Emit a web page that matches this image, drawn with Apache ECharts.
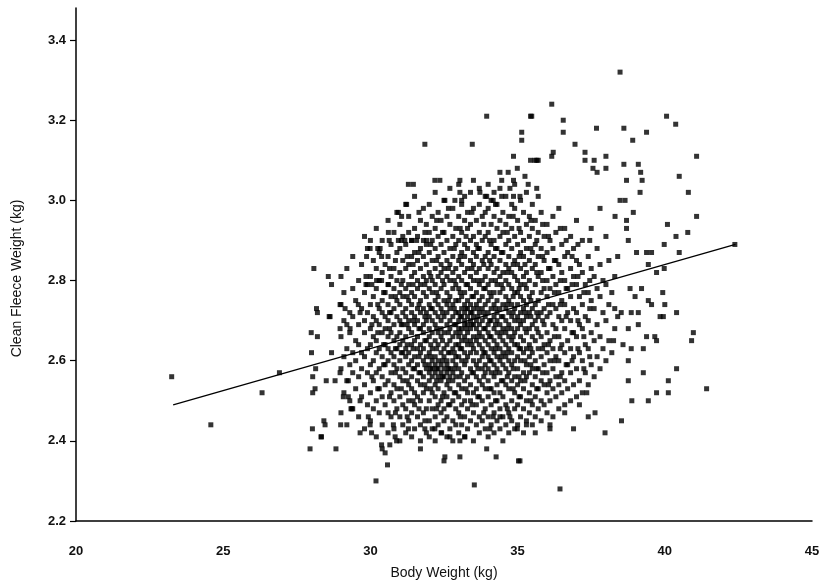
<!DOCTYPE html>
<html>
<head>
<meta charset="utf-8">
<style>
  html, body { margin: 0; padding: 0; background: #fff; }
  #chart { width: 832px; height: 586px; }
</style>
<script src="https://cdn.jsdelivr.net/npm/echarts@6/dist/echarts.min.js"></script>
</head>
<body>
<div id="chart"></div>
<script>
// body weight (kg) vs clean fleece weight (kg)

const yTicks = [2.2, 2.4, 2.6, 2.8, 3.0, 3.2, 3.4];
const xTicks = [20, 25, 30, 35, 40, 45];

// fitted regression line end points
const fitX = [23.3, 42.4];
const fitY = [2.49, 2.89];

// scattered animals away from the dense centre
const outliers = [
  [23.25, 2.56], [24.58, 2.44], [26.32, 2.52], [26.91, 2.57],
  [28.08, 2.83], [28.57, 2.81], [28.68, 2.79], [28.2, 2.72], [28.6, 2.71], [27.99, 2.67],
  [28.2, 2.66], [28.0, 2.62], [28.68, 2.62], [28.04, 2.56], [28.14, 2.58], [28.12, 2.53],
  [28.04, 2.52], [28.42, 2.45], [28.03, 2.43], [28.32, 2.41], [27.95, 2.38], [28.83, 2.38],
  [28.99, 2.44], [28.5, 2.55], [28.8, 2.55], [28.97, 2.57], [29.34, 2.48], [30.19, 2.30],
  [30.58, 2.34], [30.4, 2.38], [30.66, 2.39], [31.7, 2.38], [32.5, 2.35], [29.8, 2.91],
  [29.87, 2.86], [28.97, 2.74], [29.14, 2.73], [29.59, 2.74], [29.65, 2.72], [28.17, 2.73],
  [28.63, 2.71], [28.97, 2.68], [29.31, 2.68], [28.46, 2.44], [28.34, 2.41], [29.65, 2.42],
  [29.93, 2.46], [29.99, 2.44], [30.04, 2.42], [30.38, 2.39], [30.5, 2.37], [30.78, 2.44],
  [30.84, 2.41], [30.89, 2.40], [31.29, 2.43], [31.85, 2.43], [32.19, 2.43], [32.42, 2.42],
  [32.53, 2.36], [33.04, 2.36], [32.7, 2.41], [33.04, 2.40], [33.21, 2.41], [33.53, 2.29],
  [33.95, 2.38], [34.27, 2.36], [35.03, 2.35], [34.06, 2.43], [34.99, 2.43], [34.17, 2.46],
  [34.4, 2.46], [34.74, 2.46], [29.25, 2.51], [29.08, 2.51], [29.37, 2.48], [29.65, 2.50],
  [29.25, 2.55], [29.85, 2.81], [29.85, 2.79], [30.21, 2.80], [30.38, 2.80], [30.61, 2.79],
  [29.99, 2.88], [30.33, 2.88], [30.38, 2.86], [30.61, 2.92], [30.64, 2.90], [30.95, 2.90],
  [31.17, 2.90], [31.4, 2.90], [31.57, 2.90], [31.91, 2.90], [30.95, 2.97], [31.06, 2.96],
  [31.23, 2.99],
  [33.95, 3.21], [35.44, 3.21], [35.14, 3.17], [35.14, 3.15], [31.85, 3.14], [33.46, 3.14],
  [34.86, 3.11], [35.44, 3.10], [35.65, 3.10], [34.99, 3.08], [34.4, 3.07], [34.68, 3.07],
  [31.29, 3.04], [31.46, 3.04], [32.19, 3.05], [32.36, 3.05], [33.04, 3.05], [33.04, 3.02],
  [34.46, 3.05], [34.86, 3.05], [35.25, 3.06], [35.36, 3.04], [35.65, 3.03], [32.53, 3.00],
  [32.87, 3.00], [33.1, 3.00], [33.72, 3.02], [33.95, 3.01], [34.17, 3.00], [34.46, 3.01],
  [34.74, 3.03], [34.86, 3.01], [35.08, 3.01],
  [38.48, 3.32], [36.16, 3.24], [35.48, 3.21], [36.55, 3.20], [36.55, 3.17], [37.68, 3.18],
  [38.61, 3.18], [39.38, 3.17], [38.91, 3.15], [40.06, 3.21], [40.37, 3.19], [36.95, 3.14],
  [36.21, 3.12], [36.16, 3.11], [35.59, 3.10], [35.7, 3.10], [37.29, 3.12], [37.29, 3.10],
  [37.6, 3.10], [38.0, 3.11], [38.0, 3.08], [37.56, 3.08], [37.7, 3.07], [38.61, 3.09],
  [39.1, 3.09], [39.18, 3.07], [38.7, 3.05], [39.23, 3.05], [39.16, 3.02], [41.08, 3.11],
  [40.49, 3.06], [40.8, 3.02], [41.08, 2.96], [40.09, 2.94], [40.78, 2.92], [40.38, 2.91],
  [39.98, 2.89], [40.49, 2.87], [42.38, 2.89], [38.93, 2.97], [38.48, 3.00], [38.65, 3.00],
  [37.8, 2.98], [38.31, 2.96], [38.7, 2.95], [38.7, 2.93], [38.76, 2.90], [39.04, 2.87],
  [39.38, 2.87], [39.55, 2.87], [39.44, 2.84], [39.72, 2.82], [39.98, 2.83], [39.21, 2.78],
  [38.82, 2.78], [38.99, 2.76], [39.44, 2.75], [39.55, 2.74], [39.93, 2.77], [40.0, 2.74],
  [39.95, 2.71], [39.84, 2.71], [40.4, 2.72], [38.3, 2.73], [38.52, 2.72], [38.86, 2.72],
  [39.1, 2.72], [38.76, 2.68], [39.1, 2.69], [39.38, 2.66], [39.66, 2.66], [39.72, 2.65],
  [40.97, 2.67], [40.91, 2.65], [38.26, 2.65], [38.58, 2.64], [38.86, 2.63], [39.27, 2.63],
  [38.76, 2.60], [40.4, 2.58], [39.27, 2.57], [38.76, 2.55], [40.12, 2.55], [40.12, 2.52],
  [39.72, 2.52], [39.44, 2.50], [38.88, 2.50], [41.42, 2.53], [38.53, 2.45], [37.97, 2.42],
  [37.4, 2.46], [37.63, 2.47], [36.1, 2.44], [36.1, 2.43], [36.44, 2.28], [35.08, 2.35],
  [37.35, 2.52], [37.1, 2.49], [36.6, 2.47], [36.9, 2.43], [35.6, 2.42], [35.3, 2.44]
];

// dense centre of the cloud, one column per body weight
const coreColumns = [
  [29.0, [2.47, 2.58, 2.66, 2.74, 2.81]],
  [29.1, [2.52, 2.61, 2.70, 2.77]],
  [29.2, [2.44, 2.55, 2.63, 2.69, 2.83]],
  [29.3, [2.50, 2.59, 2.67, 2.72]],
  [29.4, [2.48, 2.57, 2.62, 2.71, 2.78, 2.86]],
  [29.5, [2.53, 2.60, 2.65, 2.75]],
  [29.6, [2.46, 2.56, 2.64, 2.69, 2.80]],
  [29.7, [2.51, 2.58, 2.62, 2.73, 2.84]],
  [29.8, [2.43, 2.54, 2.61, 2.67, 2.70, 2.77]],
  [29.9, [2.49, 2.57, 2.63, 2.72, 2.79, 2.88]],
  [30.0, [2.45, 2.52, 2.59, 2.64, 2.68, 2.74, 2.81, 2.90]],
  [30.1, [2.48, 2.55, 2.60, 2.66, 2.71, 2.76, 2.85]],
  [30.2, [2.41, 2.50, 2.57, 2.62, 2.65, 2.70, 2.78, 2.83, 2.93]],
  [30.3, [2.47, 2.53, 2.58, 2.63, 2.69, 2.73, 2.80, 2.87]],
  [30.4, [2.44, 2.51, 2.56, 2.61, 2.67, 2.72, 2.75, 2.82, 2.90]],
  [30.5, [2.49, 2.54, 2.59, 2.64, 2.68, 2.71, 2.77, 2.84]],
  [30.6, [2.42, 2.47, 2.55, 2.60, 2.63, 2.66, 2.70, 2.74, 2.79, 2.86, 2.95]],
  [30.7, [2.46, 2.52, 2.57, 2.62, 2.67, 2.72, 2.76, 2.81, 2.89]],
  [30.8, [2.43, 2.50, 2.54, 2.59, 2.61, 2.65, 2.69, 2.73, 2.78, 2.83, 2.92]],
  [30.9, [2.48, 2.53, 2.58, 2.63, 2.66, 2.71, 2.75, 2.80, 2.87, 2.97]],
  [31.0, [2.40, 2.46, 2.51, 2.56, 2.60, 2.64, 2.67, 2.70, 2.74, 2.77, 2.82, 2.88, 2.94]],
  [31.1, [2.44, 2.49, 2.55, 2.58, 2.62, 2.65, 2.69, 2.72, 2.76, 2.80, 2.85, 2.91]],
  [31.2, [2.42, 2.48, 2.52, 2.57, 2.61, 2.63, 2.66, 2.71, 2.73, 2.78, 2.83, 2.89, 2.99]],
  [31.3, [2.45, 2.50, 2.54, 2.59, 2.62, 2.68, 2.70, 2.75, 2.79, 2.84, 2.92, 2.96]],
  [31.4, [2.41, 2.47, 2.53, 2.56, 2.60, 2.64, 2.67, 2.72, 2.74, 2.77, 2.81, 2.86, 2.90]],
  [31.5, [2.43, 2.49, 2.52, 2.58, 2.61, 2.65, 2.69, 2.71, 2.76, 2.82, 2.87, 2.93, 3.01]],
  [31.6, [2.46, 2.51, 2.55, 2.59, 2.63, 2.66, 2.70, 2.73, 2.78, 2.80, 2.85, 2.91]],
  [31.7, [2.40, 2.44, 2.50, 2.54, 2.57, 2.62, 2.64, 2.68, 2.72, 2.75, 2.79, 2.83, 2.88, 2.95]],
  [31.8, [2.47, 2.52, 2.56, 2.60, 2.63, 2.67, 2.69, 2.73, 2.77, 2.81, 2.86, 2.90, 2.98]],
  [31.9, [2.42, 2.48, 2.53, 2.58, 2.61, 2.65, 2.70, 2.72, 2.76, 2.80, 2.84, 2.89, 2.94]],
  [32.0, [2.41, 2.45, 2.50, 2.55, 2.57, 2.59, 2.62, 2.66, 2.68, 2.71, 2.74, 2.78, 2.82, 2.87, 2.92, 2.99]],
  [32.1, [2.43, 2.48, 2.52, 2.56, 2.58, 2.60, 2.63, 2.67, 2.70, 2.73, 2.77, 2.80, 2.85, 2.90, 2.96]],
  [32.2, [2.40, 2.46, 2.51, 2.54, 2.57, 2.59, 2.61, 2.65, 2.69, 2.72, 2.75, 2.79, 2.83, 2.88, 2.93, 3.02]],
  [32.3, [2.44, 2.49, 2.53, 2.56, 2.58, 2.60, 2.64, 2.67, 2.71, 2.74, 2.76, 2.81, 2.86, 2.91, 2.97]],
  [32.4, [2.42, 2.47, 2.50, 2.55, 2.57, 2.59, 2.62, 2.66, 2.68, 2.70, 2.73, 2.78, 2.82, 2.84, 2.89, 2.95]],
  [32.5, [2.45, 2.48, 2.52, 2.56, 2.58, 2.61, 2.63, 2.67, 2.71, 2.75, 2.79, 2.83, 2.87, 2.92, 3.00]],
  [32.6, [2.41, 2.46, 2.51, 2.54, 2.57, 2.59, 2.60, 2.64, 2.69, 2.72, 2.74, 2.77, 2.81, 2.85, 2.90, 2.96]],
  [32.7, [2.43, 2.49, 2.53, 2.56, 2.58, 2.62, 2.65, 2.68, 2.70, 2.73, 2.76, 2.80, 2.84, 2.88, 2.94, 3.03]],
  [32.8, [2.40, 2.45, 2.50, 2.55, 2.57, 2.60, 2.63, 2.66, 2.71, 2.74, 2.78, 2.82, 2.86, 2.91, 2.98]],
  [32.9, [2.44, 2.48, 2.52, 2.56, 2.59, 2.61, 2.64, 2.67, 2.69, 2.72, 2.75, 2.79, 2.83, 2.89, 2.93]],
  [33.0, [2.42, 2.47, 2.51, 2.54, 2.58, 2.61, 2.64, 2.66, 2.68, 2.70, 2.72, 2.75, 2.78, 2.81, 2.85, 2.90, 2.96, 3.04]],
  [33.1, [2.44, 2.49, 2.53, 2.57, 2.60, 2.63, 2.65, 2.68, 2.71, 2.73, 2.76, 2.80, 2.84, 2.87, 2.92, 2.99]],
  [33.2, [2.41, 2.46, 2.50, 2.55, 2.59, 2.62, 2.66, 2.69, 2.70, 2.72, 2.74, 2.77, 2.82, 2.86, 2.89, 2.95, 3.01]],
  [33.3, [2.43, 2.48, 2.52, 2.56, 2.61, 2.64, 2.67, 2.69, 2.71, 2.73, 2.75, 2.79, 2.83, 2.88, 2.93, 2.97]],
  [33.4, [2.45, 2.50, 2.54, 2.58, 2.62, 2.65, 2.68, 2.70, 2.72, 2.74, 2.78, 2.81, 2.85, 2.90, 2.94, 3.02]],
  [33.5, [2.40, 2.47, 2.52, 2.57, 2.60, 2.63, 2.66, 2.69, 2.71, 2.73, 2.76, 2.80, 2.84, 2.87, 2.91, 2.98, 3.05]],
  [33.6, [2.44, 2.49, 2.53, 2.56, 2.59, 2.62, 2.65, 2.68, 2.70, 2.74, 2.77, 2.82, 2.86, 2.89, 2.95]],
  [33.7, [2.42, 2.46, 2.51, 2.55, 2.60, 2.64, 2.67, 2.69, 2.72, 2.75, 2.79, 2.83, 2.88, 2.92, 2.99, 3.03]],
  [33.8, [2.45, 2.50, 2.54, 2.58, 2.61, 2.63, 2.66, 2.70, 2.73, 2.76, 2.80, 2.85, 2.90, 2.96]],
  [33.9, [2.43, 2.48, 2.53, 2.57, 2.59, 2.62, 2.65, 2.68, 2.71, 2.74, 2.78, 2.81, 2.86, 2.91, 2.97, 3.01]],
  [34.0, [2.41, 2.46, 2.51, 2.55, 2.58, 2.61, 2.64, 2.67, 2.69, 2.72, 2.75, 2.79, 2.83, 2.87, 2.92, 2.98, 3.04]],
  [34.1, [2.44, 2.49, 2.53, 2.57, 2.60, 2.63, 2.66, 2.70, 2.73, 2.76, 2.80, 2.84, 2.89, 2.94, 3.00]],
  [34.2, [2.42, 2.47, 2.52, 2.56, 2.59, 2.62, 2.65, 2.68, 2.71, 2.74, 2.77, 2.82, 2.86, 2.90, 2.96, 3.02]],
  [34.3, [2.45, 2.50, 2.54, 2.58, 2.61, 2.64, 2.67, 2.70, 2.72, 2.75, 2.79, 2.83, 2.88, 2.93, 2.99]],
  [34.4, [2.43, 2.48, 2.52, 2.57, 2.60, 2.63, 2.66, 2.69, 2.73, 2.77, 2.81, 2.85, 2.91, 2.95, 3.03]],
  [34.5, [2.40, 2.46, 2.51, 2.55, 2.59, 2.62, 2.65, 2.68, 2.71, 2.74, 2.78, 2.82, 2.87, 2.92, 2.97]],
  [34.6, [2.44, 2.49, 2.54, 2.58, 2.61, 2.64, 2.67, 2.70, 2.73, 2.76, 2.80, 2.84, 2.89, 2.94, 3.01]],
  [34.7, [2.42, 2.47, 2.53, 2.57, 2.60, 2.63, 2.66, 2.69, 2.72, 2.75, 2.79, 2.83, 2.86, 2.90, 2.96]],
  [34.8, [2.45, 2.50, 2.55, 2.59, 2.62, 2.65, 2.68, 2.71, 2.74, 2.78, 2.82, 2.88, 2.93, 2.99]],
  [34.9, [2.43, 2.48, 2.52, 2.56, 2.60, 2.64, 2.67, 2.70, 2.73, 2.77, 2.81, 2.85, 2.91, 2.98, 3.04]],
  [35.0, [2.44, 2.49, 2.54, 2.58, 2.61, 2.64, 2.68, 2.71, 2.74, 2.77, 2.80, 2.84, 2.89, 2.95]],
  [35.1, [2.46, 2.51, 2.55, 2.60, 2.63, 2.66, 2.69, 2.72, 2.76, 2.79, 2.83, 2.87, 2.92, 3.00]],
  [35.2, [2.42, 2.48, 2.53, 2.57, 2.62, 2.65, 2.70, 2.73, 2.75, 2.81, 2.86, 2.90, 2.97]],
  [35.3, [2.45, 2.50, 2.56, 2.59, 2.63, 2.67, 2.71, 2.74, 2.78, 2.82, 2.88, 2.94, 3.02]],
  [35.4, [2.47, 2.52, 2.57, 2.61, 2.64, 2.68, 2.72, 2.76, 2.80, 2.85, 2.91, 2.96]],
  [35.5, [2.44, 2.49, 2.54, 2.58, 2.62, 2.66, 2.69, 2.73, 2.77, 2.83, 2.87, 2.93, 2.99]],
  [35.6, [2.46, 2.51, 2.56, 2.60, 2.65, 2.70, 2.74, 2.79, 2.84, 2.89, 2.95]],
  [35.7, [2.48, 2.53, 2.58, 2.63, 2.67, 2.71, 2.75, 2.81, 2.86, 2.92, 3.01]],
  [35.8, [2.45, 2.50, 2.55, 2.61, 2.66, 2.72, 2.77, 2.82, 2.88, 2.97]],
  [35.9, [2.49, 2.54, 2.59, 2.64, 2.69, 2.73, 2.78, 2.85, 2.91]],
  [36.0, [2.47, 2.52, 2.57, 2.62, 2.67, 2.71, 2.76, 2.80, 2.87, 2.94]],
  [36.1, [2.50, 2.55, 2.60, 2.65, 2.72, 2.78, 2.83, 2.90]],
  [36.2, [2.46, 2.53, 2.58, 2.63, 2.69, 2.74, 2.81, 2.88, 2.96]],
  [36.3, [2.51, 2.56, 2.61, 2.68, 2.73, 2.79, 2.85, 2.92]],
  [36.4, [2.48, 2.54, 2.60, 2.66, 2.71, 2.77, 2.84, 2.98]],
  [36.5, [2.52, 2.57, 2.64, 2.70, 2.75, 2.82, 2.89]],
  [36.6, [2.49, 2.55, 2.62, 2.68, 2.74, 2.80, 2.86, 2.93]],
  [36.7, [2.53, 2.59, 2.65, 2.72, 2.78, 2.87]],
  [36.8, [2.50, 2.57, 2.63, 2.70, 2.76, 2.83, 2.91]],
  [36.9, [2.54, 2.61, 2.67, 2.73, 2.81, 2.88]],
  [37.0, [2.51, 2.58, 2.66, 2.72, 2.79, 2.85, 2.95]],
  [37.1, [2.55, 2.62, 2.69, 2.76, 2.84]],
  [37.2, [2.52, 2.60, 2.68, 2.74, 2.82, 2.90]],
  [37.3, [2.57, 2.64, 2.71, 2.79]],
  [37.4, [2.54, 2.63, 2.70, 2.77, 2.86]],
  [37.5, [2.59, 2.67, 2.75, 2.83, 2.93]],
  [37.6, [2.56, 2.65, 2.73, 2.81]],
  [37.7, [2.61, 2.69, 2.78, 2.88]],
  [37.8, [2.58, 2.66, 2.76, 2.84]],
  [37.9, [2.63, 2.72, 2.80]],
  [38.0, [2.60, 2.70, 2.79, 2.91]],
  [38.1, [2.65, 2.74, 2.85]],
  [38.2, [2.62, 2.77]],
  [38.3, [2.68, 2.81]],
  [38.4, [2.71, 2.86]]
];

// animals lying between the columns above (half-step body weights)
const fillColumns = [
  [30.05, [2.56, 2.69, 2.79]],
  [30.25, [2.53, 2.67, 2.74, 2.88]],
  [30.45, [2.59, 2.64, 2.77]],
  [30.65, [2.51, 2.68, 2.72, 2.83]],
  [30.85, [2.47, 2.57, 2.63, 2.76, 2.85]],
  [31.05, [2.53, 2.62, 2.69, 2.79, 2.90]],
  [31.25, [2.46, 2.55, 2.64, 2.69, 2.76, 2.86]],
  [31.45, [2.50, 2.58, 2.63, 2.70, 2.79, 2.84]],
  [31.65, [2.48, 2.57, 2.61, 2.68, 2.74, 2.87, 2.97]],
  [31.85, [2.45, 2.54, 2.59, 2.65, 2.71, 2.79, 2.92]],
  [32.05, [2.53, 2.58, 2.61, 2.64, 2.73, 2.81, 2.89]],
  [32.25, [2.48, 2.55, 2.58, 2.63, 2.68, 2.77, 2.85, 2.95]],
  [32.45, [2.51, 2.56, 2.60, 2.65, 2.72, 2.80, 2.92]],
  [32.65, [2.49, 2.55, 2.58, 2.62, 2.67, 2.75, 2.83, 2.98]],
  [32.85, [2.52, 2.58, 2.62, 2.69, 2.73, 2.80, 2.88]],
  [33.05, [2.46, 2.56, 2.63, 2.67, 2.71, 2.77, 2.86, 2.93]],
  [33.25, [2.53, 2.60, 2.65, 2.68, 2.73, 2.79, 2.91]],
  [33.45, [2.49, 2.57, 2.64, 2.69, 2.72, 2.76, 2.83, 2.97]],
  [33.65, [2.51, 2.58, 2.66, 2.71, 2.73, 2.80, 2.88]],
  [33.85, [2.47, 2.56, 2.62, 2.68, 2.72, 2.78, 2.84, 2.94]],
  [34.05, [2.53, 2.60, 2.66, 2.70, 2.77, 2.85, 2.90]],
  [34.25, [2.50, 2.57, 2.63, 2.69, 2.73, 2.80, 2.88, 2.99]],
  [34.45, [2.55, 2.61, 2.67, 2.71, 2.79, 2.87]],
  [34.65, [2.48, 2.56, 2.62, 2.68, 2.74, 2.82, 2.92]],
  [34.85, [2.53, 2.58, 2.66, 2.72, 2.76, 2.84, 2.96]],
  [35.05, [2.51, 2.56, 2.63, 2.70, 2.78, 2.86, 2.93]],
  [35.25, [2.55, 2.60, 2.68, 2.72, 2.79, 2.84]],
  [35.45, [2.50, 2.59, 2.63, 2.71, 2.75, 2.88, 2.95]],
  [35.65, [2.53, 2.58, 2.68, 2.72, 2.82, 2.90]],
  [35.85, [2.57, 2.63, 2.70, 2.80, 2.86, 2.94]],
  [36.05, [2.54, 2.64, 2.74, 2.83, 2.91]],
  [36.25, [2.60, 2.66, 2.77, 2.85]],
  [36.45, [2.56, 2.63, 2.74, 2.80, 2.93]],
  [36.65, [2.59, 2.71, 2.78, 2.90]],
  [36.85, [2.60, 2.67, 2.79, 2.86]],
  [37.05, [2.63, 2.70, 2.81, 2.89]],
  [37.25, [2.58, 2.66, 2.77]],
  [37.45, [2.61, 2.73, 2.80, 2.90]]
];

const columnPoints = cols => cols.flatMap(([x, ys]) => ys.map(y => [x, y]));
const points = outliers.concat(columnPoints(coreColumns), columnPoints(fillColumns));

const chart = echarts.init(document.getElementById('chart'), null, { renderer: 'canvas' });

const labelFont = { fontFamily: 'Liberation Sans, Arial, sans-serif', fontSize: 13, fontWeight: 'bold', color: '#111' };

chart.setOption({
  animation: false,
  backgroundColor: '#fff',
  grid: { left: 76, right: 20, top: 8, bottom: 65 },
  xAxis: {
    type: 'value',
    min: 20,
    max: 45,
    interval: 5,
    name: 'Body Weight (kg)',
    nameLocation: 'middle',
    nameGap: 45,
    nameTextStyle: { fontFamily: 'Liberation Sans, Arial, sans-serif', fontSize: 14, color: '#111' },
    axisLine: { lineStyle: { color: '#000', width: 1.5 } },
    axisTick: { show: false },
    splitLine: { show: false },
    axisLabel: Object.assign({ margin: 24, customValues: xTicks }, labelFont)
  },
  yAxis: {
    type: 'value',
    min: 2.2,
    max: 3.48,
    name: 'Clean Fleece Weight (kg)',
    nameLocation: 'middle',
    nameGap: 52,
    nameTextStyle: { fontFamily: 'Liberation Sans, Arial, sans-serif', fontSize: 14, color: '#111', padding: [0, 28, 0, 0] },
    axisLine: { show: true, lineStyle: { color: '#000', width: 1.5 } },
    axisTick: { show: true, length: 6, customValues: yTicks, lineStyle: { color: '#000', width: 1.2 } },
    splitLine: { show: false },
    axisLabel: Object.assign({
      margin: 10,
      customValues: yTicks,
      formatter: v => v.toFixed(1)
    }, labelFont)
  },
  series: [
    {
      type: 'scatter',
      data: points,
      symbol: 'rect',
      symbolSize: 5,
      itemStyle: { color: '#000' },
      z: 2
    },
    {
      type: 'line',
      data: fitX.map((x, i) => [x, fitY[i]]),
      symbol: 'none',
      lineStyle: { color: '#000', width: 1.3 },
      z: 3
    }
  ]
});
</script>
</body>
</html>
